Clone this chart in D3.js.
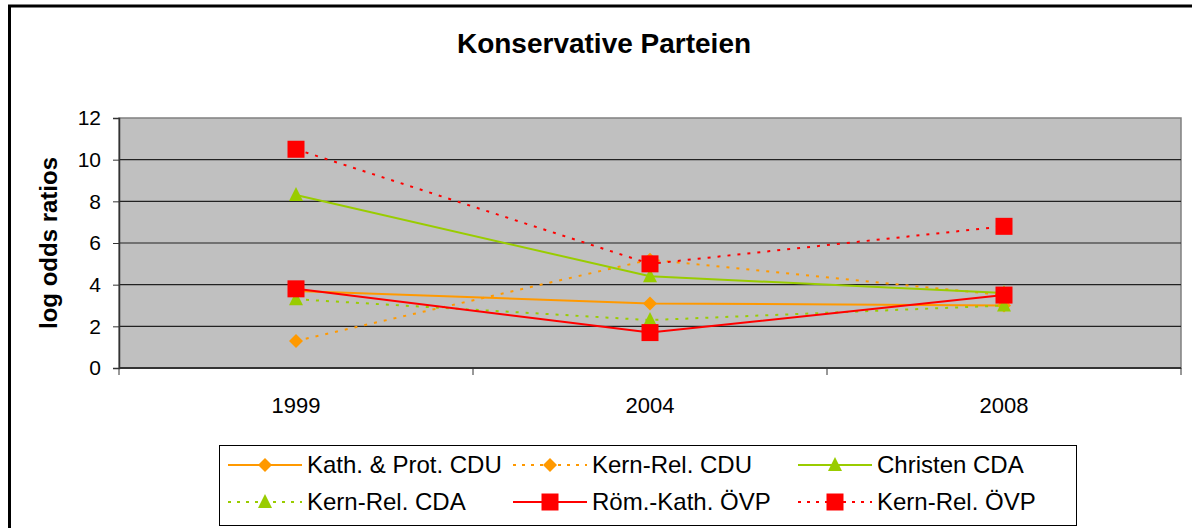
<!DOCTYPE html>
<html lang="de">
<head>
<meta charset="UTF-8">
<title>Konservative Parteien</title>
<style>
  body { margin: 0; padding: 0; background: #fff; }
  svg { display: block; font-family: Arial, 'Liberation Sans', sans-serif; }
</style>
<script src="https://d3js.org/d3.v7.min.js"></script>
</head>
<body>
<div id="chart"></div>
<script>
// data
const years = ["1999", "2004", "2008"];
const yTicks = [0, 2, 4, 6, 8, 10, 12];

const kathProtCDU = [3.7, 3.1, 3.0];
const kernRelCDU = [1.3, 5.2, 3.5];
const christenCDA = [8.3, 4.4, 3.6];
const kernRelCDA = [3.3, 2.3, 3.0];
const roemKathOVP = [3.8, 1.7, 3.5];
const kernRelOVP = [10.5, 5.0, 6.8];

const series = [
  { name: "Kath. & Prot. CDU", values: kathProtCDU, color: "#ff9900", dashed: false, marker: "diamond" },
  { name: "Kern-Rel. CDU", values: kernRelCDU, color: "#ff9900", dashed: true, marker: "diamond" },
  { name: "Christen CDA", values: christenCDA, color: "#99cc00", dashed: false, marker: "triangle" },
  { name: "Kern-Rel. CDA", values: kernRelCDA, color: "#99cc00", dashed: true, marker: "triangle" },
  { name: "Röm.-Kath. ÖVP", values: roemKathOVP, color: "#ff0000", dashed: false, marker: "square" },
  { name: "Kern-Rel. ÖVP", values: kernRelOVP, color: "#ff0000", dashed: true, marker: "square" }
];

const width = 1192, height = 528;
const plot = { left: 119, right: 1181, top: 118, bottom: 368 };

const svg = d3.select("#chart").append("svg")
  .attr("width", width)
  .attr("height", height);

// outer chart frame (runs off the right and bottom edges)
svg.append("rect")
  .attr("x", 9.5).attr("y", 6)
  .attr("width", 1200).attr("height", 600)
  .attr("fill", "#fff")
  .attr("stroke", "#000")
  .attr("stroke-width", 3);

svg.append("text")
  .attr("x", 604).attr("y", 53)
  .attr("text-anchor", "middle")
  .attr("font-size", 28)
  .attr("font-weight", "bold")
  .text("Konservative Parteien");

const x = d3.scaleBand()
  .domain(years)
  .range([plot.left, plot.right]);

const y = d3.scaleLinear()
  .domain([0, 12])
  .range([plot.bottom, plot.top]);

// plot background
svg.append("rect")
  .attr("x", plot.left).attr("y", plot.top)
  .attr("width", plot.right - plot.left)
  .attr("height", plot.bottom - plot.top)
  .attr("fill", "#c0c0c0")
  .attr("stroke", "#808080")
  .attr("stroke-width", 1.5);

// gridlines
svg.append("g")
  .selectAll("line")
  .data(yTicks.filter(d => d > 0 && d < 12))
  .join("line")
  .attr("x1", plot.left).attr("x2", plot.right)
  .attr("y1", d => y(d)).attr("y2", d => y(d))
  .attr("stroke", "#222")
  .attr("stroke-width", 1.2);

// y axis
const yAxis = svg.append("g")
  .attr("transform", `translate(${plot.left},0)`)
  .call(d3.axisLeft(y).tickValues(yTicks).tickSize(6).tickPadding(12));
yAxis.select(".domain").attr("stroke", "#333").attr("stroke-width", 1.5);
yAxis.selectAll(".tick line").attr("stroke", "#333");
yAxis.selectAll(".tick text")
  .attr("font-size", 21)
  .attr("fill", "#000")
  .attr("font-family", "Arial, 'Liberation Sans', sans-serif");

// x axis: ticks at band boundaries, labels at band centres
const xAxisG = svg.append("g").attr("transform", `translate(0,${plot.bottom})`);
xAxisG.append("line")
  .attr("x1", plot.left).attr("x2", plot.right)
  .attr("stroke", "#333").attr("stroke-width", 2);
const bounds = years.map(d => x(d)).concat([x(years[years.length - 1]) + x.bandwidth()]);
xAxisG.selectAll("line.tk")
  .data(bounds)
  .join("line")
  .attr("class", "tk")
  .attr("x1", d => d).attr("x2", d => d)
  .attr("y1", 0).attr("y2", 7)
  .attr("stroke", "#333");
xAxisG.selectAll("text")
  .data(years)
  .join("text")
  .attr("x", d => x(d) + x.bandwidth() / 2)
  .attr("y", 45)
  .attr("text-anchor", "middle")
  .attr("font-size", 22)
  .text(d => d);

svg.append("text")
  .attr("transform", "translate(57,243) rotate(-90)")
  .attr("text-anchor", "middle")
  .attr("font-size", 24)
  .attr("font-weight", "bold")
  .text("log odds ratios");

function markerPath(type) {
  if (type === "square") return "M-8.5,-8.5H8.5V8.5H-8.5Z";
  if (type === "triangle") return "M0,-8L7,6H-7Z";
  return "M0,-7L7,0L0,7L-7,0Z";
}

const cx = d => x(d) + x.bandwidth() / 2;
const line = d3.line()
  .x((v, i) => cx(years[i]))
  .y(v => y(v));

// lines and markers, series order so later ones sit on top
series.forEach(s => {
  const g = svg.append("g");
  g.append("path")
    .datum(s.values)
    .attr("d", line)
    .attr("fill", "none")
    .attr("stroke", s.color)
    .attr("stroke-width", 2)
    .attr("stroke-dasharray", s.dashed ? "3,7" : null);
  g.selectAll("path.mk")
    .data(s.values)
    .join("path")
    .attr("class", "mk")
    .attr("transform", (v, i) => `translate(${cx(years[i])},${y(v)})`)
    .attr("d", markerPath(s.marker))
    .attr("fill", s.color);
});

// legend
const legend = svg.append("g");
legend.append("rect")
  .attr("x", 219.5).attr("y", 445.5)
  .attr("width", 857).attr("height", 80)
  .attr("fill", "#fff")
  .attr("stroke", "#000");

const colX = [228, 513, 798];
const rowY = [465, 502];
series.forEach((s, i) => {
  const lx = colX[i % 3], ly = rowY[Math.floor(i / 3)];
  const item = legend.append("g").attr("transform", `translate(${lx},${ly})`);
  item.append("line")
    .attr("x1", 0).attr("x2", 74)
    .attr("stroke", s.color)
    .attr("stroke-width", 2)
    .attr("stroke-dasharray", s.dashed ? "3,6" : null);
  item.append("path")
    .attr("transform", "translate(37,0)")
    .attr("d", markerPath(s.marker))
    .attr("fill", s.color);
  item.append("text")
    .attr("x", 79).attr("y", 8)
    .attr("font-size", 24)
    .text(s.name);
});
</script>
</body>
</html>
